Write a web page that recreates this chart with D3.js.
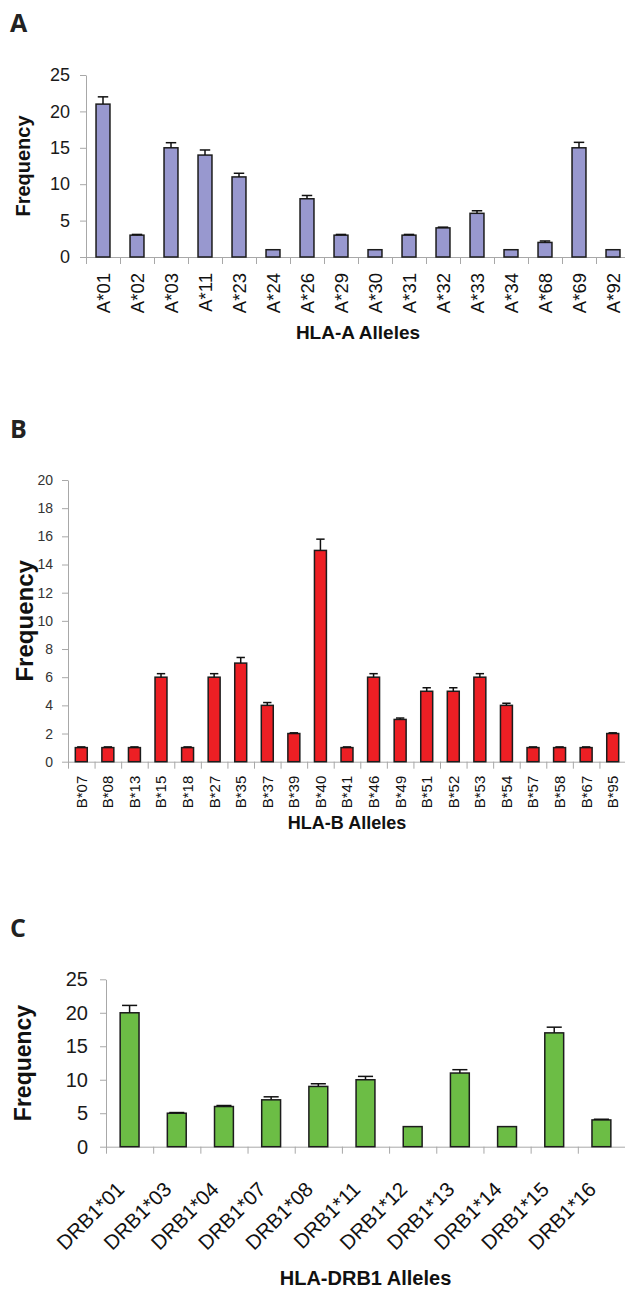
<!DOCTYPE html>
<html>
<head>
<meta charset="utf-8">
<script src="https://cdn.jsdelivr.net/npm/d3@7"></script>
<style>
body { margin: 0; background: #fff; }
svg { display: block; }
text { font-family: "Liberation Sans", Arial, sans-serif; }
</style>
</head>
<body>
<script>
// Panel A: HLA-A
var aAlleles = ["A*01", "A*02", "A*03", "A*11", "A*23", "A*24", "A*26", "A*29", "A*30", "A*31", "A*32", "A*33", "A*34", "A*68", "A*69", "A*92"];
var aFreq = [21, 3, 15, 14, 11, 1, 8, 3, 1, 3, 4, 6, 1, 2, 15, 1];
var aErr = [1.0, 0.1, 0.7, 0.7, 0.5, 0, 0.45, 0.1, 0, 0.1, 0.1, 0.35, 0, 0.2, 0.75, 0];
var aTicks = [0, 5, 10, 15, 20, 25];

// Panel B: HLA-B
var bAlleles = ["B*07", "B*08", "B*13", "B*15", "B*18", "B*27", "B*35", "B*37", "B*39", "B*40", "B*41", "B*46", "B*49", "B*51", "B*52", "B*53", "B*54", "B*57", "B*58", "B*67", "B*95"];
var bFreq = [1, 1, 1, 6, 1, 6, 7, 4, 2, 15, 1, 6, 3, 5, 5, 6, 4, 1, 1, 1, 2];
var bErr = [0.05, 0.05, 0.05, 0.25, 0.05, 0.25, 0.4, 0.2, 0.05, 0.8, 0.05, 0.25, 0.1, 0.25, 0.25, 0.25, 0.15, 0.05, 0.05, 0.05, 0.05];
var bTicks = [0, 2, 4, 6, 8, 10, 12, 14, 16, 18, 20];

// Panel C: HLA-DRB1
var cAlleles = ["DRB1*01", "DRB1*03", "DRB1*04", "DRB1*07", "DRB1*08", "DRB1*11", "DRB1*12", "DRB1*13", "DRB1*14", "DRB1*15", "DRB1*16"];
var cFreq = [20, 5, 6, 7, 9, 10, 3, 11, 3, 17, 4];
var cErr = [1.1, 0.1, 0.15, 0.45, 0.4, 0.5, 0, 0.5, 0, 0.85, 0.1];
var cTicks = [0, 5, 10, 15, 20, 25];

var svg = d3.select("body").append("svg")
    .attr("width", 625)
    .attr("height", 1290);

function panel(o) {
    var n = o.cats.length;
    var g = svg.append("g");

    // band per allele, bar centred in its slot
    var x = d3.scaleBand()
        .domain(o.cats)
        .range([o.left, o.right])
        .paddingInner(o.pad)
        .paddingOuter(o.pad / 2);
    var xb = d3.scaleLinear().domain([0, n]).range([o.left, o.right]);
    var y = d3.scaleLinear().domain([0, o.max]).range([o.bottom, o.top]);

    // y axis
    var yAx = g.append("g")
        .attr("transform", "translate(" + o.left + ",0)")
        .call(d3.axisLeft(y).tickValues(o.ticks).tickSize(6).tickSizeOuter(0).tickPadding(o.tickPad));
    yAx.select(".domain").attr("stroke", "#a8a8a8");
    yAx.selectAll(".tick line").attr("stroke", "#a8a8a8");
    yAx.selectAll(".tick text")
        .style("font-size", o.yFont + "px")
        .attr("fill", o.tickColor);

    // x axis: line + ticks between categories
    var xAx = g.append("g")
        .attr("transform", "translate(0," + o.bottom + ")")
        .call(d3.axisBottom(xb).tickValues(d3.range(n + 1)).tickFormat("").tickSize(7).tickSizeOuter(0));
    xAx.select(".domain").attr("stroke", "#a8a8a8");
    xAx.selectAll(".tick line").attr("stroke", "#a8a8a8");

    // category labels
    var lab = g.append("g")
        .attr("transform", "translate(0," + o.bottom + ")")
        .call(d3.axisBottom(x).tickSize(0));
    lab.select(".domain").remove();
    var lt = lab.selectAll(".tick text")
        .style("font-size", o.xFont + "px")
        .attr("fill", "#111")
        .attr("text-anchor", "end");
    if (o.rotate == -90) {
        lt.attr("x", -o.labGap).attr("y", 0).attr("dy", "0.36em")
            .attr("transform", "rotate(-90)");
    } else {
        lt.attr("x", 0).attr("y", 0).attr("dy", 0)
            .attr("transform", "translate(" + o.labDx + "," + o.labGap + ") rotate(-45)");
    }

    // bars
    g.selectAll(".bar")
        .data(o.vals)
        .enter().append("rect")
        .attr("x", (d, i) => x(o.cats[i]))
        .attr("y", d => y(d))
        .attr("width", x.bandwidth())
        .attr("height", d => y(0) - y(d))
        .attr("fill", o.color)
        .attr("stroke", "#1c1c1c")
        .attr("stroke-width", 1.5);

    // upper error bars
    var cap = x.bandwidth() * o.cap / 2;
    o.errs.forEach(function(e, i) {
        if (!e) return;
        var cx = x(o.cats[i]) + x.bandwidth() / 2;
        g.append("line")
            .attr("x1", cx).attr("x2", cx)
            .attr("y1", y(o.vals[i])).attr("y2", y(o.vals[i] + e))
            .attr("stroke", "#111").attr("stroke-width", 1.5);
        g.append("line")
            .attr("x1", cx - cap).attr("x2", cx + cap)
            .attr("y1", y(o.vals[i] + e)).attr("y2", y(o.vals[i] + e))
            .attr("stroke", "#111").attr("stroke-width", 1.5);
    });

    // axis titles
    g.append("text")
        .attr("transform", "translate(" + o.yTitleX + "," + (o.top + o.bottom) / 2 + ") rotate(-90)")
        .attr("text-anchor", "middle")
        .attr("dy", "0.36em")
        .style("font-size", o.yTitleFont + "px")
        .style("font-weight", "bold")
        .attr("fill", "#111")
        .text("Frequency");

    g.append("text")
        .attr("x", (o.left + o.right) / 2)
        .attr("y", o.xTitleY)
        .attr("text-anchor", "middle")
        .style("font-size", o.xTitleFont + "px")
        .style("font-weight", "bold")
        .attr("fill", "#111")
        .text(o.xTitle);

    // panel letter
    svg.append("text")
        .attr("x", 10)
        .attr("y", o.letterY)
        .style("font-family", "'Open Sans', sans-serif")
        .style("font-size", "25px")
        .style("font-weight", "bold")
        .attr("fill", "#222")
        .text(o.letter);
}

panel({
    letter: "A", letterY: 32,
    cats: aAlleles, vals: aFreq, errs: aErr, ticks: aTicks, max: 25,
    left: 86, right: 630, top: 75, bottom: 257,
    pad: 0.59, cap: 0.75, color: "#9898cf",
    yFont: 18, tickPad: 10, tickColor: "#1a1a1a",
    xFont: 18.5, rotate: -90, labGap: 16,
    yTitleX: 23, yTitleFont: 20,
    xTitle: "HLA-A Alleles", xTitleY: 339, xTitleFont: 19
});

panel({
    letter: "B", letterY: 438,
    cats: bAlleles, vals: bFreq, errs: bErr, ticks: bTicks, max: 20,
    left: 68, right: 626, top: 480, bottom: 761.7,
    pad: 0.55, cap: 0.7, color: "#ed1f24",
    yFont: 14, tickPad: 9, tickColor: "#333",
    xFont: 15, rotate: -90, labGap: 14,
    yTitleX: 24, yTitleFont: 24,
    xTitle: "HLA-B Alleles", xTitleY: 829, xTitleFont: 18
});

panel({
    letter: "C", letterY: 937,
    cats: cAlleles, vals: cFreq, errs: cErr, ticks: cTicks, max: 25,
    left: 106, right: 625, top: 979.3, bottom: 1146.7,
    pad: 0.6, cap: 0.8, color: "#6cbd45",
    yFont: 20, tickPad: 12, tickColor: "#1a1a1a",
    xFont: 20.5, rotate: -45, labDx: -4, labGap: 44,
    yTitleX: 23, yTitleFont: 23,
    xTitle: "HLA-DRB1 Alleles", xTitleY: 1285, xTitleFont: 20
});
</script>
</body>
</html>
